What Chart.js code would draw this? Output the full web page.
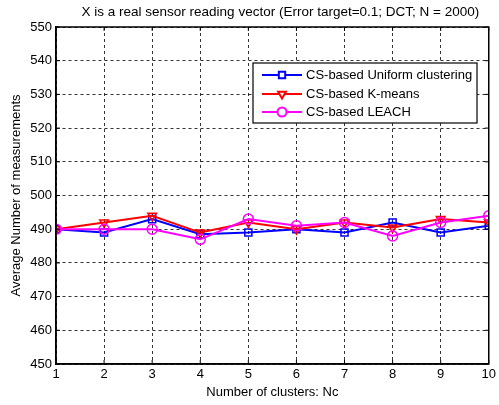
<!DOCTYPE html>
<html>
<head>
<meta charset="utf-8">
<script src="https://cdn.jsdelivr.net/npm/chart.js@4.4.1/dist/chart.umd.min.js"></script>
<style>
  html, body { margin: 0; padding: 0; background: #fff; }
  #wrap { width: 499px; height: 405px; }
</style>
</head>
<body>
<div id="wrap"><canvas id="chart" width="499" height="405"></canvas></div>
<script>
// number of clusters (x) and average measurement counts per method
const clusters = [1, 2, 3, 4, 5, 6, 7, 8, 9, 10];
const uniformVals = [490, 489, 493, 488.5, 489, 490, 489, 492, 489, 491];
const kmeansVals = [490, 492, 494, 489, 492, 490, 492, 490.5, 493, 492];
const leachVals = [490, 490, 490, 487, 493, 491, 492, 488, 492, 494];

const titleText = "X is a real sensor reading vector (Error target=0.1; DCT; N = 2000)";
const FONT = "'Liberation Sans', Arial, sans-serif";

const toPoints = (vals) => clusters.map((c, i) => ({ x: c, y: vals[i] }));

// box around the axes, title and legend, drawn like a matlab figure
const figurePlugin = {
  id: "figure",
  afterDatasetsDraw(chart) {
    const { ctx, chartArea: a } = chart;
    ctx.save();
    ctx.strokeStyle = "#000";
    ctx.lineWidth = 1.5;
    ctx.strokeRect(a.left, a.top, a.right - a.left, a.bottom - a.top);

    // small inner tick marks
    ctx.lineWidth = 1;
    const xs = chart.scales.x, ys = chart.scales.y;
    xs.ticks.forEach(t => {
      const px = xs.getPixelForValue(t.value);
      ctx.beginPath();
      ctx.moveTo(px, a.bottom); ctx.lineTo(px, a.bottom - 4);
      ctx.moveTo(px, a.top); ctx.lineTo(px, a.top + 4);
      ctx.stroke();
    });
    ys.ticks.forEach(t => {
      const py = ys.getPixelForValue(t.value);
      ctx.beginPath();
      ctx.moveTo(a.left, py); ctx.lineTo(a.left + 4, py);
      ctx.moveTo(a.right, py); ctx.lineTo(a.right - 4, py);
      ctx.stroke();
    });

    // title
    ctx.fillStyle = "#000";
    ctx.font = "13.5px " + FONT;
    ctx.textAlign = "center";
    ctx.textBaseline = "middle";
    ctx.fillText(titleText, (a.left + a.right) / 2 + 8, 12);

    // legend
    const lx = 253, ly = 63, lw = 224, lh = 60;
    ctx.fillStyle = "#fff";
    ctx.fillRect(lx, ly, lw, lh);
    ctx.strokeStyle = "#000";
    ctx.lineWidth = 1.2;
    ctx.strokeRect(lx, ly, lw, lh);
    const rows = [75, 94, 112];
    chart.data.datasets.forEach((ds, i) => {
      const y = rows[i];
      ctx.strokeStyle = ds.borderColor;
      ctx.lineWidth = 2;
      ctx.beginPath();
      ctx.moveTo(lx + 9, y); ctx.lineTo(lx + 49, y);
      ctx.stroke();
      ctx.fillStyle = "#fff";
      Chart.helpers.drawPoint(ctx, {
        pointStyle: ds.pointStyle,
        radius: 4.5,
        rotation: ds.pointRotation || 0,
        borderWidth: 1.5
      }, lx + 29, y);
      ctx.fillStyle = "#000";
      ctx.font = "13px " + FONT;
      ctx.textAlign = "left";
      ctx.fillText(ds.label, lx + 53, y + 0.5);
    });
    ctx.restore();
  }
};

const lineSet = (label, color, vals, style, rot, order) => ({
  label,
  data: toPoints(vals),
  borderColor: color,
  backgroundColor: "rgba(0,0,0,0)",
  borderWidth: 2,
  pointStyle: style,
  pointRotation: rot,
  pointRadius: 5,
  pointBorderWidth: 1.5,
  pointBorderColor: color,
  pointBackgroundColor: "rgba(0,0,0,0)",
  tension: 0,
  order
});

new Chart(document.getElementById("chart"), {
  type: "line",
  data: {
    datasets: [
      lineSet("CS-based Uniform clustering", "#0000ff", uniformVals, "rect", 0, 2),
      lineSet("CS-based K-means", "#ff0000", kmeansVals, "triangle", 180, 1),
      lineSet("CS-based LEACH", "#ff00ff", leachVals, "circle", 0, 0)
    ]
  },
  plugins: [figurePlugin],
  options: {
    responsive: false,
    animation: false,
    layout: { padding: { top: 27, right: 7, left: 0, bottom: 0 } },
    plugins: {
      legend: { display: false },
      title: { display: false },
      tooltip: { enabled: false }
    },
    scales: {
      x: {
        type: "linear",
        min: 1,
        max: 10,
        afterFit: (s) => { s.height = 41; },
        ticks: {
          stepSize: 1,
          maxRotation: 0,
          color: "#000",
          padding: 3,
          font: { family: FONT, size: 13 }
        },
        grid: {
          color: "#000",
          lineWidth: 0.8,
          drawTicks: false
        },
        border: { display: true, color: "#000", width: 1.5, dash: [3, 3] },
        title: {
          display: true,
          text: "Number of clusters: Nc",
          color: "#000",
          padding: { top: 1, bottom: 5 },
          font: { family: FONT, size: 13 }
        }
      },
      y: {
        min: 450,
        max: 550,
        afterFit: (s) => { s.width = 56; },
        ticks: {
          stepSize: 10,
          color: "#000",
          padding: 4,
          font: { family: FONT, size: 13 }
        },
        grid: {
          color: "#000",
          lineWidth: 0.8,
          drawTicks: false
        },
        border: { display: true, color: "#000", width: 1.5, dash: [3, 3] },
        title: {
          display: true,
          text: "Average Number of measurements",
          color: "#000",
          padding: { top: 9, bottom: 0 },
          font: { family: FONT, size: 13 }
        }
      }
    }
  }
});
</script>
</body>
</html>
